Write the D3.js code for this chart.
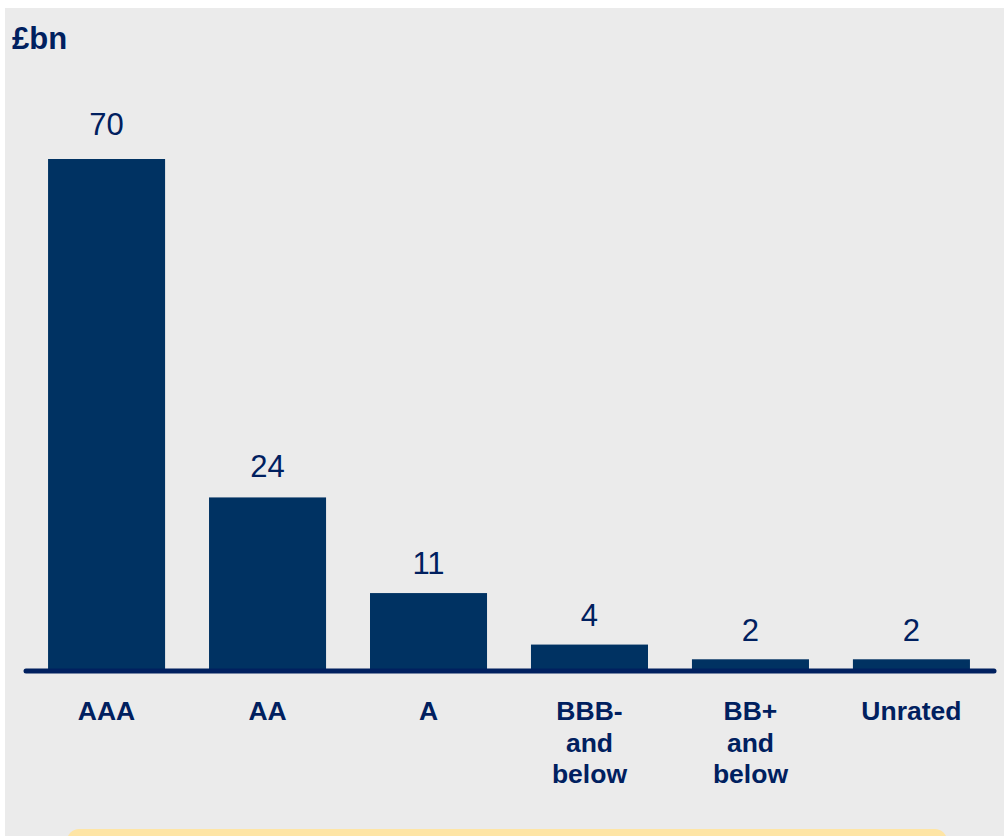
<!DOCTYPE html>
<html>
<head>
<meta charset="utf-8">
<script src="https://cdn.jsdelivr.net/npm/d3@7"></script>
<style>
  body { margin:0; background:#fff; }
  svg { display:block; font-family:"Liberation Sans", Arial, sans-serif; }
</style>
</head>
<body>
<div id="chart"></div>
<script>
// data
const categories = ["AAA", "AA", "A", "BBB-\nand\nbelow", "BB+\nand\nbelow", "Unrated"];
const values = [70, 24, 11, 4, 2, 2];
const unitLabel = "£bn";

const W = 1004, H = 836;
const navy = "#00205f", barFill = "#003262";

const svg = d3.select("#chart").append("svg")
  .attr("width", W).attr("height", H);

// panel background
svg.append("rect").attr("x", 5).attr("y", 8)
  .attr("width", W - 5).attr("height", H - 8).attr("fill", "#ebebeb");

// yellow box peeking at the bottom
svg.append("rect").attr("x", 67).attr("y", 829)
  .attr("width", 880).attr("height", 40).attr("rx", 12)
  .attr("fill", "#fee5a5");

const baseY = 674, axisY = 671;
const x = d3.scaleBand().domain(categories)
  .range([26, 992]).paddingInner(0.273).paddingOuter(0.137);
const y = d3.scaleLinear().domain([0, 70]).range([baseY, 159]);

const data = categories.map((c, i) => ({ cat: c, v: values[i] }));

svg.append("g").selectAll("rect").data(data).enter().append("rect")
  .attr("x", d => x(d.cat))
  .attr("y", d => y(d.v))
  .attr("width", x.bandwidth())
  .attr("height", d => axisY - y(d.v))
  .attr("fill", barFill);

// value labels
svg.append("g").selectAll("text").data(data).enter().append("text")
  .attr("x", d => x(d.cat) + x.bandwidth() / 2)
  .attr("y", d => y(d.v) - 18 - d.v * 0.085)
  .attr("text-anchor", "middle")
  .attr("font-size", 31)
  .attr("fill", navy)
  .text(d => d.v);

// axis line
svg.append("line").attr("x1", 26).attr("x2", 994)
  .attr("y1", axisY).attr("y2", axisY)
  .attr("stroke", navy).attr("stroke-width", 5)
  .attr("stroke-linecap", "round");

// category labels
const cl = svg.append("g").selectAll("text").data(data).enter().append("text")
  .attr("x", d => x(d.cat) + x.bandwidth() / 2)
  .attr("y", 720)
  .attr("text-anchor", "middle")
  .attr("font-size", 26.5)
  .attr("font-weight", "bold")
  .attr("fill", navy);
cl.selectAll("tspan").data(d => d.cat.split("\n").map(t => ({ t, x: x(d.cat) + x.bandwidth() / 2 })))
  .enter().append("tspan")
  .attr("x", d => d.x)
  .attr("dy", (d, i) => i === 0 ? 0 : 31.5)
  .text(d => d.t);

// unit label
svg.append("text").attr("x", 12).attr("y", 49)
  .attr("font-size", 31).attr("font-weight", "bold")
  .attr("fill", navy).text(unitLabel);
</script>
</body>
</html>
